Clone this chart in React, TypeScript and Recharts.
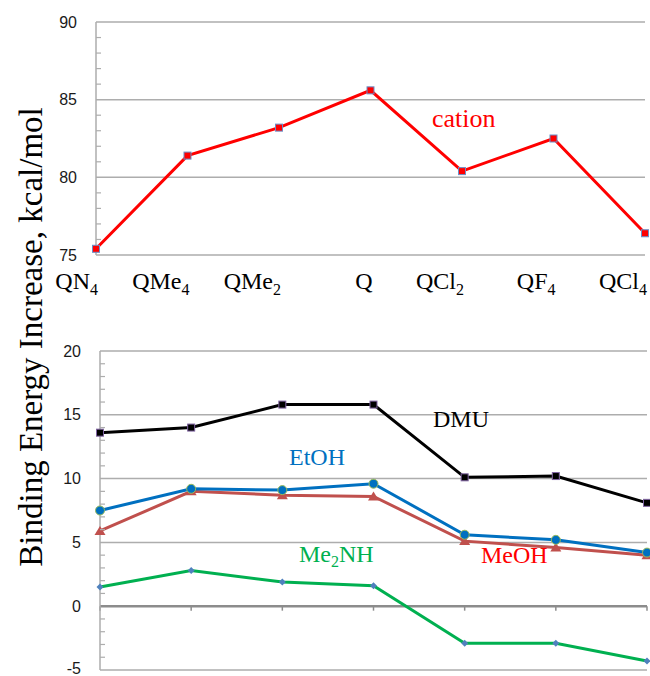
import React from 'react';
import { LineChart, Line, XAxis, YAxis, ReferenceLine } from 'recharts';

const CATEGORIES = ['QN4', 'QMe4', 'QMe2', 'Q', 'QCl2', 'QF4', 'QCl4'];
const CATION = [75.4, 81.4, 83.2, 85.6, 80.4, 82.5, 76.4];
const DMU = [13.6, 14.0, 15.8, 15.8, 10.1, 10.2, 8.1];
const ETOH = [7.5, 9.2, 9.1, 9.6, 5.6, 5.2, 4.2];
const MEOH = [5.9, 9.0, 8.7, 8.6, 5.1, 4.6, 4.0];
const ME2NH = [1.5, 2.8, 1.9, 1.6, -2.9, -2.9, -4.3];

const TOP_LABELS = [75, 80, 85, 90];
const BOTTOM_LABELS = [-5, 0, 5, 10, 15, 20];
const TOP_GRID = [75, 80, 85, 90];
const BOTTOM_GRID = [-5, 5, 10, 15, 20];

const topData = CATEGORIES.map((cat, i) => ({ cat, cation: CATION[i] }));
const bottomData = CATEGORIES.map((cat, i) => ({
  cat, dmu: DMU[i], etoh: ETOH[i], meoh: MEOH[i], me2nh: ME2NH[i],
}));

const range = (a: number, b: number) => Array.from({ length: b - a + 1 }, (_, i) => a + i);

const GRID = '#ADADAD';
const SERIF = '"Liberation Serif", "Times New Roman", serif';
const SANS = '"Liberation Sans", Arial, sans-serif';

function makeYTick(labels: number[], margin: number) {
  return (props: any) => {
    const { x, y, payload } = props;
    if (labels.includes(payload.value)) {
      // the lowest label sits on the page edge, lift it a little
      const lift = payload.value === -5 ? -2 : 0;
      return (
        <text x={x} y={y + lift} dy="0.35em" textAnchor="end" fontSize={16} fontFamily={SANS} fill="#1a1a1a">
          {payload.value}
        </text>
      );
    }
    const ax = x + margin;
    return <line x1={ax} x2={ax + 5} y1={y} y2={y} stroke={GRID} strokeWidth={1.2} />;
  };
}

const CatTick = (props: any) => {
  const { x, y, payload } = props;
  const m = /^(.*?)(\d*)$/.exec(String(payload.value)) || ['', String(payload.value), ''];
  return (
    <text x={x + 2} y={y + 34} textAnchor="end" fontFamily={SERIF} fontSize={24} fill="#000">
      {m[1]}
      {m[2] ? <tspan fontSize={16} dy={6}>{m[2]}</tspan> : null}
    </text>
  );
};

const squareDot = (fill: string, stroke: string, size: number) => (p: any) => (
  <rect key={`s-${p.index}`} x={p.cx - size / 2} y={p.cy - size / 2} width={size} height={size}
    fill={fill} stroke={stroke} strokeWidth={1} />
);

const circleDot = (p: any) => (
  <circle key={`c-${p.index}`} cx={p.cx} cy={p.cy} r={4.5} fill="#0070C0" stroke="#9BBB59" strokeWidth={1} />
);

const triangleDot = (p: any) => (
  <path key={`t-${p.index}`} d={`M${p.cx},${p.cy - 5} L${p.cx + 5.5},${p.cy + 4} L${p.cx - 5.5},${p.cy + 4} Z`}
    fill="#C0504D" />
);

const diamondDot = (p: any) => (
  <path key={`d-${p.index}`} d={`M${p.cx},${p.cy - 3.5} L${p.cx + 3.5},${p.cy} L${p.cx},${p.cy + 3.5} L${p.cx - 3.5},${p.cy} Z`}
    fill="#4F81BD" />
);

export default function App() {
  return (
    <div style={{ position: 'absolute', left: 0, top: 0, width: 650, height: 676, background: '#fff' }}>
      <div style={{ position: 'absolute', left: 0, top: 0 }}>
        <LineChart width={650} height={300} data={topData} margin={{ top: 22, right: 5, bottom: 15, left: 36 }}>
          <XAxis dataKey="cat" height={30} padding={{ left: 0, right: 0 }} axisLine={false} tickLine={false}
            tickSize={0} tickMargin={0} interval={0} tick={CatTick} />
          <YAxis width={60} domain={[75, 90]} ticks={range(75, 90)} interval={0} tickSize={0} tickMargin={19}
            tickLine={false} axisLine={{ stroke: GRID, strokeWidth: 1.5 }} tick={makeYTick(TOP_LABELS, 19)} />
          {TOP_GRID.map((v) => (
            <ReferenceLine key={v} y={v} stroke={GRID} strokeWidth={1.5} />
          ))}
          <Line dataKey="cation" stroke="#FF0000" strokeWidth={3} isAnimationActive={false}
            dot={squareDot('#FF0000', '#6A8FC8', 7)} activeDot={false} />
        </LineChart>
      </div>
      <div style={{ position: 'absolute', left: 0, top: 330 }}>
        <LineChart width={650} height={346} data={bottomData} margin={{ top: 21, right: 3, bottom: 6, left: 40 }}>
          <XAxis dataKey="cat" hide padding={{ left: 0, right: 0 }} />
          <YAxis width={60} domain={[-5, 20]} ticks={range(-5, 20)} interval={0} tickSize={0} tickMargin={19}
            tickLine={false} axisLine={{ stroke: GRID, strokeWidth: 1.5 }} tick={makeYTick(BOTTOM_LABELS, 19)} />
          {BOTTOM_GRID.map((v) => (
            <ReferenceLine key={v} y={v} stroke={GRID} strokeWidth={1.5} />
          ))}
          <ReferenceLine y={0} stroke="#8C8C8C" strokeWidth={2.5} />
          {CATEGORIES.map((c) => (
            <ReferenceLine key={c} segment={[{ x: c, y: 0 }, { x: c, y: -0.35 }]} stroke="#8C8C8C" strokeWidth={1.5} />
          ))}
          <Line dataKey="me2nh" stroke="#00B050" strokeWidth={3} isAnimationActive={false} dot={diamondDot} activeDot={false} />
          <Line dataKey="meoh" stroke="#C0504D" strokeWidth={3} isAnimationActive={false} dot={triangleDot} activeDot={false} />
          <Line dataKey="etoh" stroke="#0070C0" strokeWidth={3} isAnimationActive={false} dot={circleDot} activeDot={false} />
          <Line dataKey="dmu" stroke="#000000" strokeWidth={3} isAnimationActive={false}
            dot={squareDot('#000000', '#8064A2', 7)} activeDot={false} />
        </LineChart>
      </div>
      <svg width={650} height={676} style={{ position: 'absolute', left: 0, top: 0, pointerEvents: 'none' }}>
        <text x={42} y={337} transform="rotate(-90, 42, 337)" textAnchor="middle" fontFamily={SERIF} fontSize={33} fill="#000">
          Binding Energy Increase, kcal/mol
        </text>
        <text x={432} y={127} fontFamily={SERIF} fontSize={26} fill="#FF0000">cation</text>
        <text x={433} y={427} fontFamily={SERIF} fontSize={24} fill="#000">DMU</text>
        <text x={289} y={465} fontFamily={SERIF} fontSize={24} fill="#0070C0">EtOH</text>
        <text x={299} y={562} fontFamily={SERIF} fontSize={24} fill="#00B050">
          Me<tspan fontSize={16} dy={5}>2</tspan><tspan dy={-5}>NH</tspan>
        </text>
        <text x={481} y={563} fontFamily={SERIF} fontSize={24} fill="#FF0000">MeOH</text>
      </svg>
    </div>
  );
}
